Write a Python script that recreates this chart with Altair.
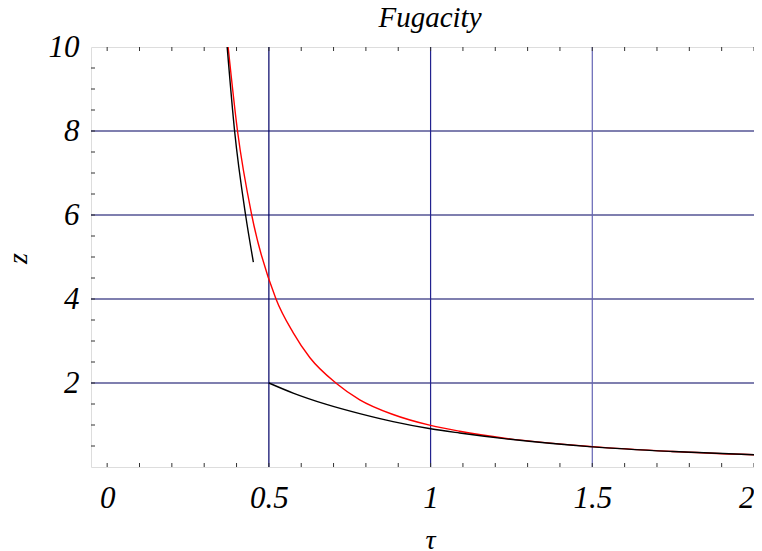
import altair as alt
import pandas as pd

# ---- data ----
title_text = "Fugacity"

tau_red = [0.374, 0.403, 0.447, 0.522, 0.575, 0.627, 0.707, 0.781, 0.884, 1.0, 1.09, 1.234, 1.5, 1.748, 2.0]
z_red = [10.0, 8.0, 6.0, 4.0, 3.2, 2.6, 2.0, 1.6, 1.25, 0.99, 0.85, 0.68, 0.485, 0.37, 0.29]

tau_black_a = [0.371, 0.394, 0.428, 0.452]
z_black_a = [10.0, 8.0, 6.0, 4.88]

tau_black_b = [0.5, 0.575, 0.678, 0.781, 0.884, 1.0, 1.09, 1.234, 1.5, 1.748, 2.0]
z_black_b = [2.0, 1.76, 1.49, 1.27, 1.08, 0.91, 0.81, 0.67, 0.48, 0.37, 0.29]

h_grid = [2, 4, 6, 8]
v_grid = [0.5, 1.0, 1.5]
v_grid_colors = ["#000066", "#22228f", "#6464b4"]

x_labels = [0, 0.5, 1, 1.5, 2]
y_labels = [2, 4, 6, 8, 10]
x_minor = [0.0, 0.1, 0.2, 0.3, 0.4, 0.5, 0.6, 0.7, 0.8, 0.9, 1.0,
           1.1, 1.2, 1.3, 1.4, 1.5, 1.6, 1.7, 1.8, 1.9, 2.0]
y_minor = [0.5, 1, 1.5, 2, 2.5, 3, 3.5, 4, 4.5, 5, 5.5, 6, 6.5, 7, 7.5, 8, 8.5, 9, 9.5]

W, H = 663, 420
FONT = "Liberation Serif"

curves = pd.concat([
    pd.DataFrame({"tau": tau_red, "z": z_red, "seg": "red", "col": "#ff0000"}),
    pd.DataFrame({"tau": tau_black_a, "z": z_black_a, "seg": "blackA", "col": "#000000"}),
    pd.DataFrame({"tau": tau_black_b, "z": z_black_b, "seg": "blackB", "col": "#000000"}),
], ignore_index=True)

xscale = alt.Scale(domain=[-0.05, 2.0], nice=False, zero=False)
yscale = alt.Scale(domain=[0, 10], nice=False, zero=False)

xaxis = alt.Axis(values=x_labels, format="~g", grid=False, ticks=False, tickSize=0,
                 domain=False, labelBaseline="alphabetic", labelPadding=40,
                 labelFont=FONT, labelFontStyle="italic", labelFontSize=31,
                 labelColor="black", labelFlush=2, labelFlushOffset=0, labelOverlap=False,
                 title="τ", titleFont=FONT, titleFontStyle="italic", titleFontSize=28,
                 titleFontWeight="normal", titleColor="black",
                 titleX=339, titleY=81, titleBaseline="alphabetic", titleAlign="center")
yaxis = alt.Axis(values=y_labels, format="d", grid=False, ticks=False, tickSize=0,
                 domain=False, labelPadding=12, labelBaseline="middle",
                 labelFont=FONT, labelFontStyle="italic", labelFontSize=31,
                 labelColor="black", labelFlush=False, labelOverlap=False,
                 title="z", titleFont=FONT, titleFontStyle="italic", titleFontSize=28,
                 titleFontWeight="normal", titleColor="black",
                 titleX=-65, titleY=211, titleAngle=-90, titleBaseline="alphabetic",
                 titleAlign="center")

hg = alt.Chart(pd.DataFrame({"y": h_grid})).mark_rule(color="#000060", strokeWidth=1.1).encode(
    y=alt.Y("y:Q", scale=yscale, axis=yaxis)
)
vg = alt.Chart(pd.DataFrame({"x": v_grid, "c": v_grid_colors})).mark_rule(strokeWidth=1.2).encode(
    x=alt.X("x:Q", scale=xscale, axis=xaxis),
    color=alt.Color("c:N", scale=None),
)

lines = alt.Chart(curves).mark_line(strokeWidth=1.4, interpolate="monotone", clip=True).encode(
    x=alt.X("tau:Q", scale=xscale, axis=xaxis),
    y=alt.Y("z:Q", scale=yscale, axis=yaxis),
    detail="seg:N",
    color=alt.Color("col:N", scale=None),
    order=alt.Order("tau:Q"),
)

xt = pd.DataFrame({"t": x_minor})
yt = pd.DataFrame({"t": y_minor})
tick_bottom = alt.Chart(xt).mark_rule(color="#333333", strokeWidth=1).encode(
    x=alt.X("t:Q", scale=xscale, axis=xaxis), y=alt.value(H), y2=alt.value(H - 4))
tick_top = alt.Chart(xt).mark_rule(color="#333333", strokeWidth=1).encode(
    x=alt.X("t:Q", scale=xscale, axis=xaxis), y=alt.value(0), y2=alt.value(4))
tick_left = alt.Chart(yt).mark_rule(color="#333333", strokeWidth=1).encode(
    y=alt.Y("t:Q", scale=yscale, axis=yaxis), x=alt.value(0), x2=alt.value(4))

title = alt.Chart(pd.DataFrame({"t": [title_text]})).mark_text(
    font=FONT, fontStyle="italic", fontSize=29, color="black",
    align="center", baseline="alphabetic"
).encode(text="t:N", x=alt.value(339), y=alt.value(-20))

chart = alt.layer(hg, vg, tick_bottom, tick_top, tick_left, lines, title).properties(
    width=W, height=H,
    padding={"left": 83, "top": 39, "right": 0, "bottom": 84},
    autosize=alt.AutoSizeParams(type="none"),
).configure_view(stroke="#555555", strokeWidth=1.6).configure(background="white")

chart.save("out.html", embed_options={"renderer": "svg", "actions": False})
